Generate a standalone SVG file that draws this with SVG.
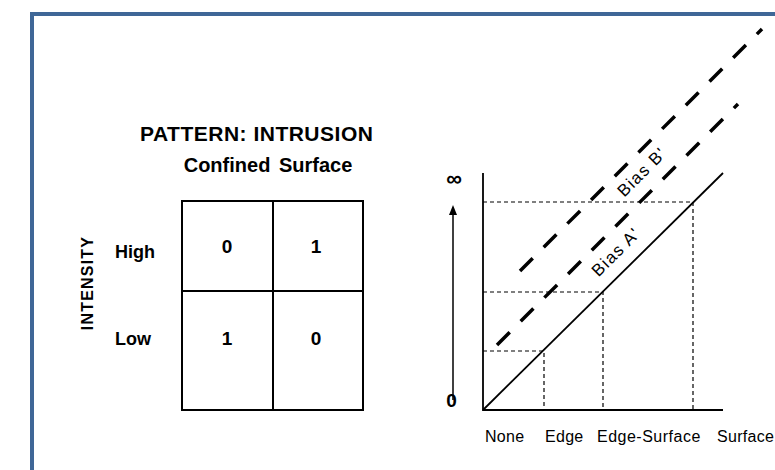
<svg xmlns="http://www.w3.org/2000/svg" width="775" height="470" viewBox="0 0 775 470">
<defs>
<style>
.b{font-family:"Liberation Sans",Arial,sans-serif;font-weight:bold;fill:#000}
.n{font-family:"Liberation Sans",Arial,sans-serif;fill:#000}
.dot{stroke:#000;stroke-width:1.2;stroke-dasharray:4 3;fill:none}
.bias{stroke:#000;stroke-width:3.5;stroke-dasharray:18 15.5;fill:none}
.ax{stroke:#000;stroke-width:1.8;fill:none}
</style>
<marker id="ah" markerWidth="10" markerHeight="8" refX="1" refY="4" orient="auto" markerUnits="userSpaceOnUse" viewBox="0 0 10 8">
<path d="M10,4 L0,0 L0,8 Z" fill="#000"/>
</marker>
</defs>
<rect width="775" height="470" fill="#fff"/>
<rect id="frame" x="32" y="14" width="800" height="500" fill="#fff" stroke="#3f6797" stroke-width="4"/>

<g id="matrix">
<text class="b" x="140" y="141" font-size="21" letter-spacing="0.5">PATTERN: INTRUSION</text>
<text class="b" x="268" y="172" font-size="20" text-anchor="middle" word-spacing="3">Confined Surface</text>
<text class="b" font-size="16" letter-spacing="1.2" text-anchor="middle" transform="translate(93,283) rotate(-90)">INTENSITY</text>
<text class="b" x="115" y="258" font-size="18">High</text>
<text class="b" x="115" y="345" font-size="18">Low</text>
<rect x="182" y="201" width="181" height="209" fill="none" stroke="#000" stroke-width="2"/>
<line x1="273" y1="201" x2="273" y2="410" stroke="#000" stroke-width="2"/>
<line x1="182" y1="291" x2="363" y2="291" stroke="#000" stroke-width="2"/>
<text class="b" x="227" y="253" font-size="19" text-anchor="middle">0</text>
<text class="b" x="316" y="253" font-size="19" text-anchor="middle">1</text>
<text class="b" x="227" y="345" font-size="19" text-anchor="middle">1</text>
<text class="b" x="316" y="345" font-size="19" text-anchor="middle">0</text>
</g>

<g id="chart">
<text class="b" x="454" y="186" font-size="22" text-anchor="middle">∞</text>
<text class="b" x="451.5" y="407" font-size="19" text-anchor="middle">0</text>
<text class="n" x="485" y="442" font-size="16" letter-spacing="0.3">None</text>
<text class="n" x="545" y="442" font-size="16" letter-spacing="0.3">Edge</text>
<text class="n" x="597" y="442" font-size="16" letter-spacing="0.5">Edge-Surface</text>
<text class="n" x="717" y="442" font-size="16" letter-spacing="0.3">Surface</text>
<text class="n" font-size="17" letter-spacing="1.3" text-anchor="middle" transform="translate(620,256) rotate(-45)">Bias A'</text>
<text class="n" font-size="17" letter-spacing="1.3" text-anchor="middle" transform="translate(646,176) rotate(-45)">Bias B'</text>
</g>

<g id="connectors">
<line x1="453" y1="400" x2="453" y2="214" stroke="#000" stroke-width="1.5" marker-end="url(#ah)"/>
<polyline class="ax" points="483,173 483,410 723,410"/>
<line x1="483" y1="410" x2="723" y2="173" stroke="#000" stroke-width="1.8"/>
<polyline class="dot" points="483,202 693,202 693,410"/>
<polyline class="dot" points="483,292 603,292 603,410"/>
<polyline class="dot" points="483,351 544,351 544,410"/>
<line class="bias" x1="497" y1="345" x2="738" y2="104"/>
<line class="bias" x1="520" y1="271" x2="762" y2="29"/>
</g>
</svg>
